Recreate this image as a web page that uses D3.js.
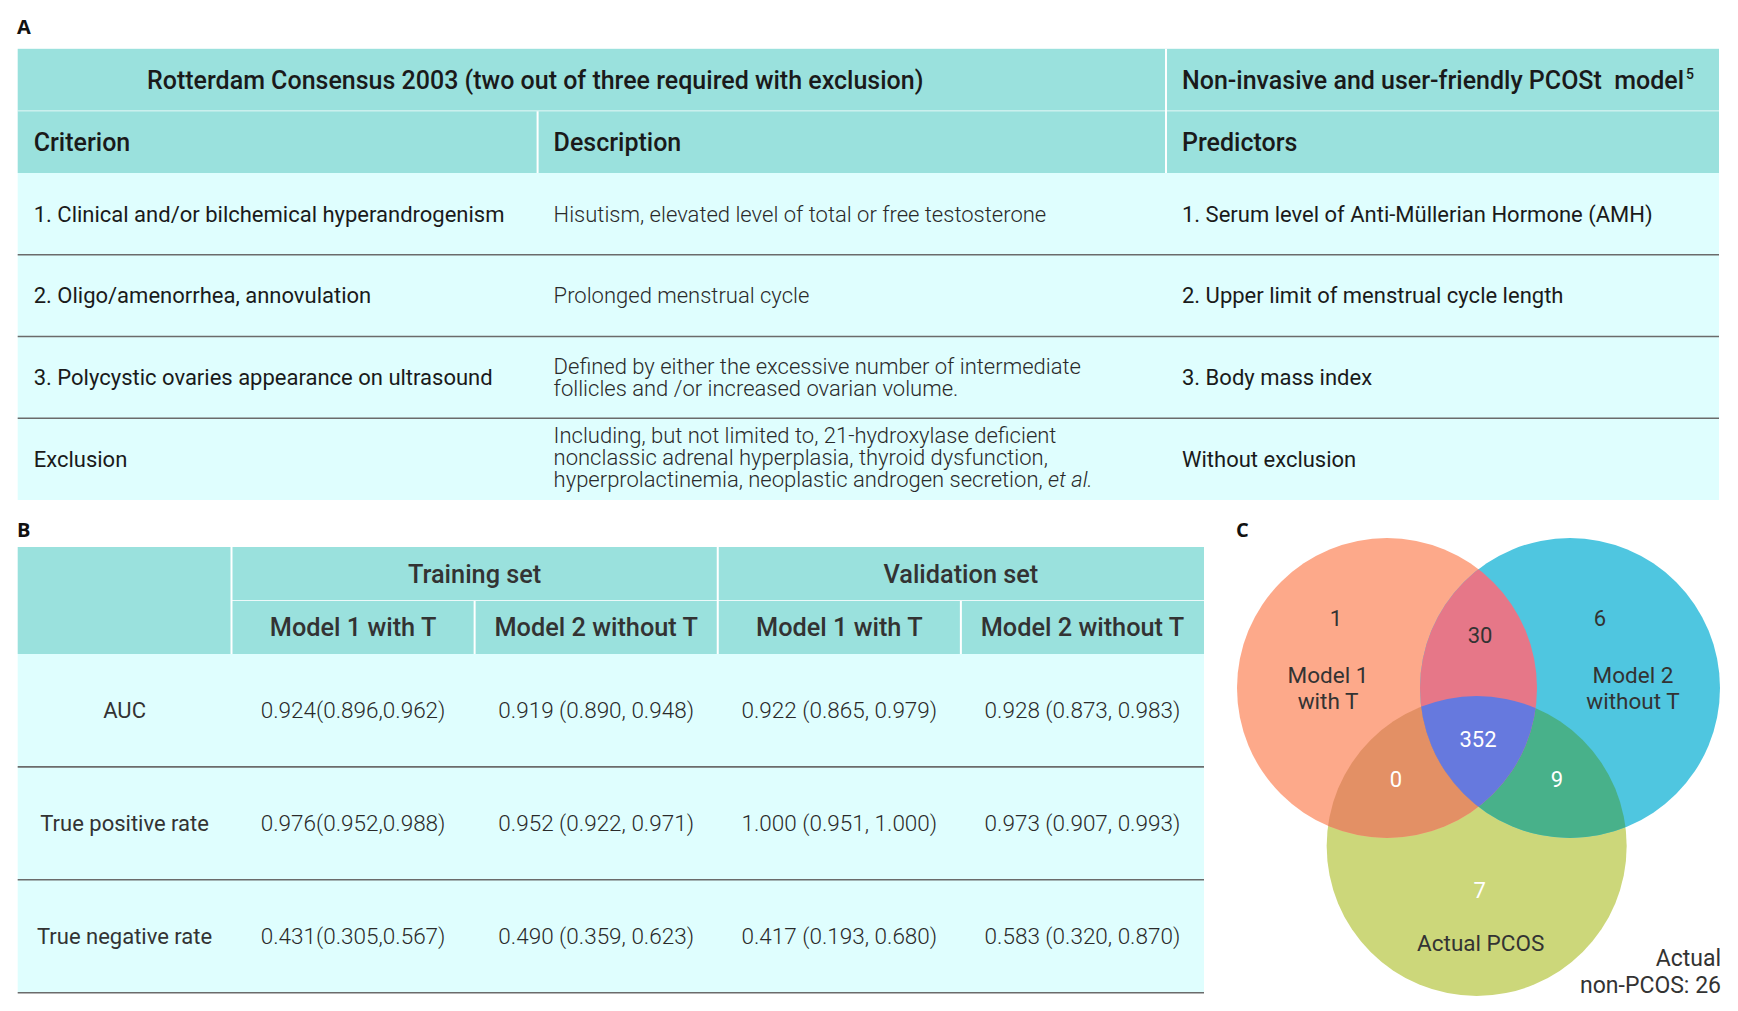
<!DOCTYPE html>
<html><head><meta charset="utf-8">
<script src="https://cdn.jsdelivr.net/npm/d3@7"></script>
<style>
body{margin:0;background:#fff}
svg{display:block}
text{font-family:Roboto,'Noto Sans',sans-serif}
</style>
</head><body>
<svg id="c" width="1738" height="1011"></svg>
<script>
// ---------- Panel A data ----------
const titleRotterdam = "Rotterdam Consensus 2003 (two out of three required with exclusion)";
const titleModel = "Non-invasive and user-friendly PCOSt\u00A0 model";
const titleModelRef = "5";
const headersA = ["Criterion", "Description", "Predictors"];
const criteria = [
  "1. Clinical and/or bilchemical hyperandrogenism",
  "2. Oligo/amenorrhea, annovulation",
  "3. Polycystic ovaries appearance on ultrasound",
  "Exclusion"
];
const descriptions = [
  ["Hisutism, elevated level of total or free testosterone"],
  ["Prolonged menstrual cycle"],
  ["Defined by either the excessive number of intermediate", "follicles and /or increased ovarian volume."],
  ["Including, but not limited to, 21-hydroxylase deficient", "nonclassic adrenal hyperplasia, thyroid dysfunction,", "hyperprolactinemia, neoplastic androgen secretion, *et al.*"]
];
const predictors = [
  "1. Serum level of Anti-Müllerian Hormone (AMH)",
  "2. Upper limit of menstrual cycle length",
  "3. Body mass index",
  "Without exclusion"
];

// ---------- Panel B data ----------
const setNames = ["Training set", "Validation set"];
const modelNames = ["Model 1 with T", "Model 2 without T"];
const metrics = ["AUC", "True positive rate", "True negative rate"];
const trainModel1 = ["0.924(0.896,0.962)", "0.976(0.952,0.988)", "0.431(0.305,0.567)"];
const trainModel2 = ["0.919 (0.890, 0.948)", "0.952 (0.922, 0.971)", "0.490 (0.359, 0.623)"];
const validModel1 = ["0.922 (0.865, 0.979)", "1.000 (0.951, 1.000)", "0.417 (0.193, 0.680)"];
const validModel2 = ["0.928 (0.873, 0.983)", "0.973 (0.907, 0.993)", "0.583 (0.320, 0.870)"];

// ---------- Panel C data ----------
const vennSetNames = [["Model 1", "with T"], ["Model 2", "without T"], ["Actual PCOS"]];
const vennRegions = ["1", "2", "3", "12", "13", "23", "123"];
const vennCounts = [1, 6, 7, 30, 0, 9, 352];
const outsideName = ["Actual", "non-PCOS"];
const outsideCount = 26;

// ---------- styles ----------
const HEAD = "#9ae1dd", BODY = "#dffefe", LINE = "#6b6b6b";
const svg = d3.select("#c");
const base = (mid, fs) => mid + fs * 0.355;

function panelLabel(t, x, y) {
  svg.append("text").attr("x", x).attr("y", y).text(t)
    .style("font-family", "'Open Sans',sans-serif").style("font-weight", 700)
    .style("font-size", "20px").attr("fill", "#111");
}

// ================= PANEL A =================
panelLabel("A", 17, 34);
const aLeft = 17.7, aRight = 1719;
const colA = d3.scaleOrdinal().domain(headersA).range([17.7, 537.6, 1166]);
const headA = d3.scaleBand().domain(["title", "cols"]).range([48.8, 173]).paddingInner(0.012);
const rowA = d3.scaleBand().domain(criteria).range([173, 500]);
const padA = 16;
const fsTitleA = 25, fsHeadA = 25, fsBodyA = 22;

const gA = svg.append("g");
gA.append("rect").attr("x", aLeft).attr("y", headA.range()[0]).attr("width", aRight - aLeft)
  .attr("height", headA.range()[1] - headA.range()[0]).attr("fill", HEAD);
gA.append("rect").attr("x", aLeft).attr("y", rowA.range()[0]).attr("width", aRight - aLeft)
  .attr("height", rowA.range()[1] - rowA.range()[0]).attr("fill", BODY);
gA.append("rect").attr("x", aLeft).attr("y", headA("title") + headA.bandwidth()).attr("width", aRight - aLeft)
  .attr("height", headA("cols") - headA("title") - headA.bandwidth()).attr("fill", "#fff");
gA.append("line").attr("x1", colA("Predictors")).attr("x2", colA("Predictors"))
  .attr("y1", headA.range()[0]).attr("y2", rowA.range()[0]).attr("stroke", "#fff").attr("stroke-width", 2);
gA.append("line").attr("x1", colA("Description")).attr("x2", colA("Description"))
  .attr("y1", headA("cols")).attr("y2", rowA.range()[0]).attr("stroke", "#fff").attr("stroke-width", 2);

const tY = base(headA("title") + headA.bandwidth() / 2, fsTitleA);
gA.append("text").attr("x", 147).attr("y", tY).text(titleRotterdam)
  .style("font-size", fsTitleA + "px").style("font-weight", 500).attr("fill", "#1a1a1a");
const tm = gA.append("text").attr("x", colA("Predictors") + padA).attr("y", tY)
  .style("font-size", fsTitleA + "px").style("font-weight", 500).attr("fill", "#1a1a1a");
tm.append("tspan").text(titleModel);
tm.append("tspan").text(titleModelRef).attr("dy", -10).attr("dx", 2).style("font-size", "14px");

const cY = base(headA("cols") + headA.bandwidth() / 2, fsHeadA);
gA.selectAll("text.colh").data(headersA).join("text").attr("class", "colh")
  .attr("x", d => colA(d) + padA).attr("y", cY).text(d => d)
  .style("font-size", fsHeadA + "px").style("font-weight", 500).attr("fill", "#1a1a1a");

gA.selectAll("line.rs").data(criteria.slice(0, -1)).join("line").attr("class", "rs")
  .attr("x1", aLeft).attr("x2", aRight)
  .attr("y1", d => rowA(d) + rowA.bandwidth()).attr("y2", d => rowA(d) + rowA.bandwidth())
  .attr("stroke", LINE).attr("stroke-width", 1.6);

const lineH = 22;
criteria.forEach((c, i) => {
  const mid = rowA(c) + rowA.bandwidth() / 2;
  gA.append("text").attr("x", colA("Criterion") + padA).attr("y", base(mid, fsBodyA)).text(c)
    .style("font-size", fsBodyA + "px").style("font-weight", 400).attr("fill", "#1a1a1a");
  gA.append("text").attr("x", colA("Predictors") + padA).attr("y", base(mid, fsBodyA)).text(predictors[i])
    .style("font-size", fsBodyA + "px").style("font-weight", 400).attr("fill", "#1a1a1a");
  const lines = descriptions[i];
  const y0 = base(mid, fsBodyA) - (lines.length - 1) * lineH / 2 - (lines.length === 3 ? 2 : 0);
  lines.forEach((ln, j) => {
    const t = gA.append("text").attr("x", colA("Description") + padA).attr("y", y0 + j * lineH)
      .style("font-size", fsBodyA + "px").style("font-weight", 300).attr("fill", "#2a2a2a");
    ln.split("*").forEach((part, k) => {
      if (part) t.append("tspan").text(part).style("font-style", k % 2 ? "italic" : "normal");
    });
  });
});

// ================= PANEL B =================
panelLabel("B", 17, 537);
const bLeft = 17.7, bRight = 1204;
const bodyCols = [trainModel1, trainModel2, validModel1, validModel2];
const colKeys = ["t1", "t2", "v1", "v2"];
const colB = d3.scaleBand().domain(colKeys).range([231.5, bRight]);
const setB = d3.scaleBand().domain(setNames).range([231.5, bRight]);
const headB = d3.scaleBand().domain(["set", "model"]).range([547, 654]).paddingInner(0.015);
const rowB = d3.scaleBand().domain(metrics).range([654, 992.7]);
const fsHeadB = 25.3, fsMetric = 22, fsVal = 22.5;
const gB = svg.append("g");
gB.append("rect").attr("x", bLeft).attr("y", headB.range()[0]).attr("width", bRight - bLeft)
  .attr("height", headB.range()[1] - headB.range()[0]).attr("fill", HEAD);
gB.append("rect").attr("x", bLeft).attr("y", rowB.range()[0]).attr("width", bRight - bLeft)
  .attr("height", rowB.range()[1] - rowB.range()[0]).attr("fill", BODY);
gB.append("rect").attr("x", colB.range()[0]).attr("y", headB("set") + headB.bandwidth())
  .attr("width", bRight - colB.range()[0]).attr("height", headB("model") - headB("set") - headB.bandwidth()).attr("fill", "#fff");
gB.append("line").attr("x1", colB.range()[0]).attr("x2", colB.range()[0])
  .attr("y1", headB.range()[0]).attr("y2", rowB.range()[0]).attr("stroke", "#fff").attr("stroke-width", 2);
gB.append("line").attr("x1", setB(setNames[1])).attr("x2", setB(setNames[1]))
  .attr("y1", headB.range()[0]).attr("y2", rowB.range()[0]).attr("stroke", "#fff").attr("stroke-width", 2);
["t2", "v2"].forEach(k => {
  gB.append("line").attr("x1", colB(k)).attr("x2", colB(k))
    .attr("y1", headB("model")).attr("y2", rowB.range()[0]).attr("stroke", "#fff").attr("stroke-width", 2);
});
gB.selectAll("text.set").data(setNames).join("text").attr("class", "set")
  .attr("x", d => setB(d) + setB.bandwidth() / 2).attr("y", base(headB("set") + headB.bandwidth() / 2, fsHeadB))
  .attr("text-anchor", "middle").text(d => d)
  .style("font-size", fsHeadB + "px").style("font-weight", 500).attr("fill", "#333");
gB.selectAll("text.model").data(colKeys).join("text").attr("class", "model")
  .attr("x", d => colB(d) + colB.bandwidth() / 2).attr("y", base(headB("model") + headB.bandwidth() / 2, fsHeadB))
  .attr("text-anchor", "middle").text((d, i) => modelNames[i % 2])
  .style("font-size", fsHeadB + "px").style("font-weight", 500).attr("fill", "#333");
gB.selectAll("line.rs").data(metrics).join("line").attr("class", "rs")
  .attr("x1", bLeft).attr("x2", bRight)
  .attr("y1", d => rowB(d) + rowB.bandwidth()).attr("y2", d => rowB(d) + rowB.bandwidth())
  .attr("stroke", LINE).attr("stroke-width", 1.6);
gB.selectAll("text.metric").data(metrics).join("text").attr("class", "metric")
  .attr("x", (bLeft + colB.range()[0]) / 2).attr("y", d => base(rowB(d) + rowB.bandwidth() / 2, fsMetric))
  .attr("text-anchor", "middle").text(d => d)
  .style("font-size", fsMetric + "px").style("font-weight", 400).attr("fill", "#333");
bodyCols.forEach((vals, ci) => {
  gB.selectAll("text.v" + ci).data(vals).join("text").attr("class", "v" + ci)
    .attr("x", colB(colKeys[ci]) + colB.bandwidth() / 2)
    .attr("y", (d, i) => base(rowB(metrics[i]) + rowB.bandwidth() / 2, fsVal))
    .attr("text-anchor", "middle").text(d => d)
    .style("font-size", fsVal + "px").style("font-weight", 300).attr("fill", "#2a2a2a");
});

// ================= PANEL C =================
panelLabel("C", 1236, 537);
const R = 150;
const vx = d3.scaleLinear().domain([0, 1]).range([1387, 1570]);
const circles = [
  { id: "c1", cx: vx(0), cy: 688, fill: "#fda98a" },
  { id: "c2", cx: vx(1), cy: 688, fill: "#4fc6e0" },
  { id: "c3", cx: vx(0.49), cy: 846, fill: "#ccd77a" }
];
const defs = svg.append("defs");
circles.forEach(c => {
  defs.append("clipPath").attr("id", "clip-" + c.id)
    .append("circle").attr("cx", c.cx).attr("cy", c.cy).attr("r", R);
});
const gC = svg.append("g");
function circ(g, c, fill) {
  g.append("circle").attr("cx", c.cx).attr("cy", c.cy).attr("r", R).attr("fill", fill);
}
circ(gC, circles[2], circles[2].fill);
circ(gC, circles[0], circles[0].fill);
circ(gC, circles[1], circles[1].fill);
circ(gC.append("g").attr("clip-path", "url(#clip-c1)"), circles[2], "#e39065");
circ(gC.append("g").attr("clip-path", "url(#clip-c2)"), circles[2], "#48b18a");
circ(gC.append("g").attr("clip-path", "url(#clip-c1)"), circles[1], "#e67788");
circ(gC.append("g").attr("clip-path", "url(#clip-c1)").append("g").attr("clip-path", "url(#clip-c2)"), circles[2], "#6679de");

const regionAnchor = {
  "1":   [circles[0], -51, -62, "#333"],
  "2":   [circles[1], 30, -62, "#333"],
  "3":   [circles[2], 3, 52, "#fff"],
  "12":  [circles[0], 93, -45, "#333"],
  "13":  [circles[0], 9, 99, "#fff"],
  "23":  [circles[1], -13, 99, "#fff"],
  "123": [circles[0], 91, 59, "#fff"]
};
vennRegions.forEach((r, i) => {
  const [c, dx, dy, col] = regionAnchor[r];
  gC.append("text").attr("x", c.cx + dx).attr("y", c.cy + dy).attr("text-anchor", "middle")
    .text(vennCounts[i]).style("font-size", "22px").attr("fill", col);
});
const nameAnchor = [[circles[0], -59, -5], [circles[1], 63, -5], [circles[2], 4, 105]];
vennSetNames.forEach((lines, i) => {
  const [c, dx, dy] = nameAnchor[i];
  lines.forEach((ln, j) => {
    gC.append("text").attr("x", c.cx + dx).attr("y", c.cy + dy + j * 26).attr("text-anchor", "middle")
      .text(ln).style("font-size", "22.5px").attr("fill", "#333");
  });
});
const outLines = [outsideName[0], outsideName[1] + ": " + outsideCount];
outLines.forEach((ln, j) => {
  gC.append("text").attr("x", 1721).attr("y", 966 + j * 27).attr("text-anchor", "end")
    .text(ln).style("font-size", "23px").attr("fill", "#333");
});
</script>
</body></html>
